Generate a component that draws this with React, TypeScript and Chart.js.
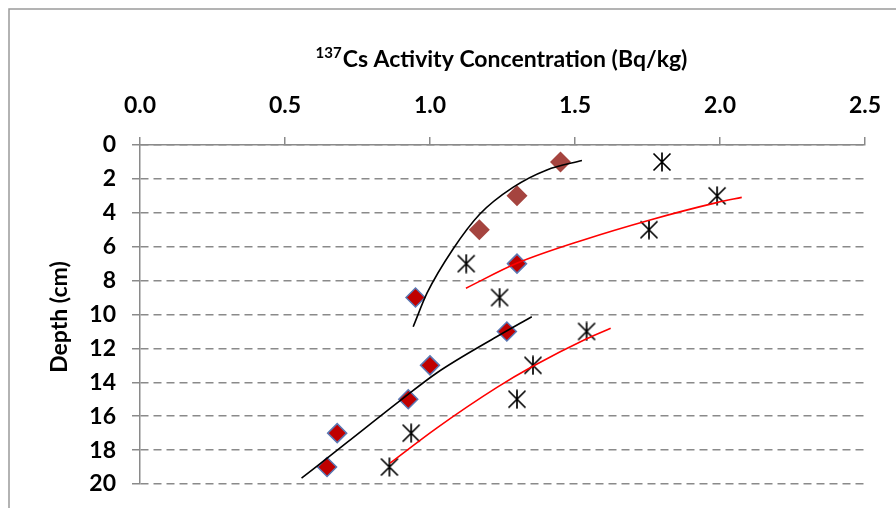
import React, { useEffect, useRef } from "react";
import { Chart, registerables } from "chart.js";

Chart.register(...registerables);

// ---- data ----
const xTickValues = [0, 0.5, 1.0, 1.5, 2.0, 2.5];
const depthTicks = [0, 2, 4, 6, 8, 10, 12, 14, 16, 18, 20];

const upperDiamondDepth = [1, 3, 5];
const upperDiamondX = [1.45, 1.3, 1.17];

const lowerDiamondDepth = [7, 9, 11, 13, 15, 17, 19];
const lowerDiamondX = [1.3, 0.95, 1.265, 1.0, 0.925, 0.68, 0.645];

const starDepth = [1, 3, 5, 7, 9, 11, 13, 15, 17, 19];
const starX = [1.8, 1.99, 1.755, 1.125, 1.24, 1.54, 1.355, 1.3, 0.935, 0.86];

// trend curves (readings along the drawn lines)
const blackTopX = [0.942, 0.99, 1.079, 1.172, 1.286, 1.403, 1.524];
const blackTopD = [10.72, 8.73, 6.15, 4.07, 2.5, 1.47, 0.91];

const redTopX = [1.124, 1.299, 1.529, 1.759, 1.989, 2.075];
const redTopD = [8.45, 6.98, 5.6, 4.42, 3.4, 3.09];

const blackBottomX = [0.557, 0.714, 0.907, 1.023, 1.231, 1.351];
const blackBottomD = [19.66, 17.55, 14.95, 13.45, 11.3, 10.13];

const redBottomX = [0.862, 1.023, 1.231, 1.353, 1.54, 1.623];
const redBottomD = [18.77, 16.7, 14.3, 13.07, 11.43, 10.81];

const FONT = "Lato, 'Open Sans', sans-serif";

function pts(xs: number[], ys: number[]) {
  return xs.map((x, i) => ({ x, y: ys[i] }));
}

function makeStar(): HTMLCanvasElement {
  const c = document.createElement("canvas");
  c.width = 20;
  c.height = 20;
  const g = c.getContext("2d")!;
  g.strokeStyle = "#000";
  g.lineWidth = 1.7;
  g.beginPath();
  g.moveTo(10, 0.5);
  g.lineTo(10, 19.5);
  g.moveTo(1.5, 1.5);
  g.lineTo(18.5, 18.5);
  g.moveTo(18.5, 1.5);
  g.lineTo(1.5, 18.5);
  g.stroke();
  return c;
}

const decor = {
  id: "decor",
  afterDraw(chart: any) {
    const ctx = chart.ctx as CanvasRenderingContext2D;
    ctx.save();
    // outer frame
    ctx.strokeStyle = "#9a9a9a";
    ctx.lineWidth = 1.5;
    ctx.strokeRect(9, 9, 1000, 1000);

    // top title with superscript
    ctx.fillStyle = "#000";
    ctx.textBaseline = "alphabetic";
    ctx.textAlign = "left";
    const supFont = `bold 15px ${FONT}`;
    const mainFont = `bold 23px ${FONT}`;
    const sup = "137";
    const main = "Cs Activity Concentration (Bq/kg)";
    ctx.font = supFont;
    const ws = ctx.measureText(sup).width;
    ctx.font = mainFont;
    const wm = ctx.measureText(main).width;
    const cx = 501.5;
    const start = cx - (ws + wm + 1) / 2;
    ctx.font = supFont;
    ctx.fillText(sup, start, 58);
    ctx.font = mainFont;
    ctx.fillText(main, start + ws + 1, 67);

    // y title
    ctx.translate(67, 317);
    ctx.rotate(-Math.PI / 2);
    ctx.textAlign = "center";
    ctx.font = mainFont;
    ctx.fillText("Depth (cm)", 0, 0);
    ctx.restore();
  },
};

export default function App() {
  const ref = useRef<HTMLCanvasElement>(null);

  useEffect(() => {
    if (!ref.current) return;
    const star = makeStar();
    const lineDs = (label: string, xs: number[], ys: number[], color: string) => ({
      label,
      data: pts(xs, ys),
      showLine: true,
      borderColor: color,
      borderWidth: 1.6,
      pointRadius: 0,
      cubicInterpolationMode: "monotone" as const,
      order: 0,
    });
    const chart = new Chart(ref.current, {
      type: "scatter",
      data: {
        datasets: [
          lineDs("trend1", blackTopX, blackTopD, "#000000"),
          lineDs("trend2", redTopX, redTopD, "#ff0000"),
          lineDs("trend3", blackBottomX, blackBottomD, "#000000"),
          lineDs("trend4", redBottomX, redBottomD, "#ff0000"),
          {
            label: "upper",
            data: pts(upperDiamondX, upperDiamondDepth),
            pointStyle: "rectRot",
            pointRadius: 10.5,
            backgroundColor: "#a5443f",
            borderWidth: 0,
            order: 1,
          },
          {
            label: "lower",
            data: pts(lowerDiamondX, lowerDiamondDepth),
            pointStyle: "rectRot",
            pointRadius: 9.5,
            backgroundColor: "#c00000",
            borderColor: "#5a78b4",
            borderWidth: 1.5,
            order: 1,
          },
          {
            label: "stars",
            data: pts(starX, starDepth),
            pointStyle: star as any,
            pointRadius: 10,
            order: 1,
          },
        ],
      },
      options: {
        responsive: false,
        animation: false,
        events: [],
        layout: { padding: { left: 0, right: 31, top: 0, bottom: 24 } },
        plugins: {
          legend: { display: false },
          tooltip: { enabled: false },
          title: { display: false },
        },
        scales: {
          x: {
            type: "linear",
            position: "top",
            min: 0,
            max: 2.5,
            afterBuildTicks: (s: any) => {
              s.ticks = xTickValues.map((v) => ({ value: v }));
            },
            afterFit: (s: any) => {
              s.height = 145;
              s.paddingLeft = 0;
              s.paddingRight = 0;
            },
            ticks: {
              color: "#000",
              padding: 18,
              maxRotation: 0,
              font: { family: FONT, size: 23, weight: "bold" },
              callback: (v: any) => Number(v).toFixed(1),
            },
            grid: {
              drawOnChartArea: false,
              drawTicks: true,
              tickLength: 8,
              color: "#8a8a8a",
              lineWidth: 1.5,
            },
            border: { display: true, color: "#8a8a8a", width: 1.5 },
          },
          y: {
            type: "linear",
            reverse: true,
            min: 0,
            max: 20,
            afterBuildTicks: (s: any) => {
              s.ticks = depthTicks.map((v) => ({ value: v }));
            },
            afterFit: (s: any) => {
              s.width = 140;
              s.paddingTop = 0;
              s.paddingBottom = 0;
            },
            ticks: {
              color: "#000",
              padding: 16,
              font: { family: FONT, size: 23, weight: "bold" },
              callback: (v: any) => String(v),
            },
            grid: {
              drawOnChartArea: true,
              drawTicks: true,
              tickLength: 8,
              color: "#8a8a8a",
              lineWidth: 1.5,
            },
            border: { display: true, color: "#8a8a8a", width: 1.5, dash: [8, 5] },
          },
        },
      },
      plugins: [decor],
    });
    return () => chart.destroy();
  }, []);

  return (
    <div style={{ position: "absolute", left: 0, top: 0, width: 896, height: 508 }}>
      <canvas ref={ref} width={896} height={508} style={{ display: "block" }} />
    </div>
  );
}
